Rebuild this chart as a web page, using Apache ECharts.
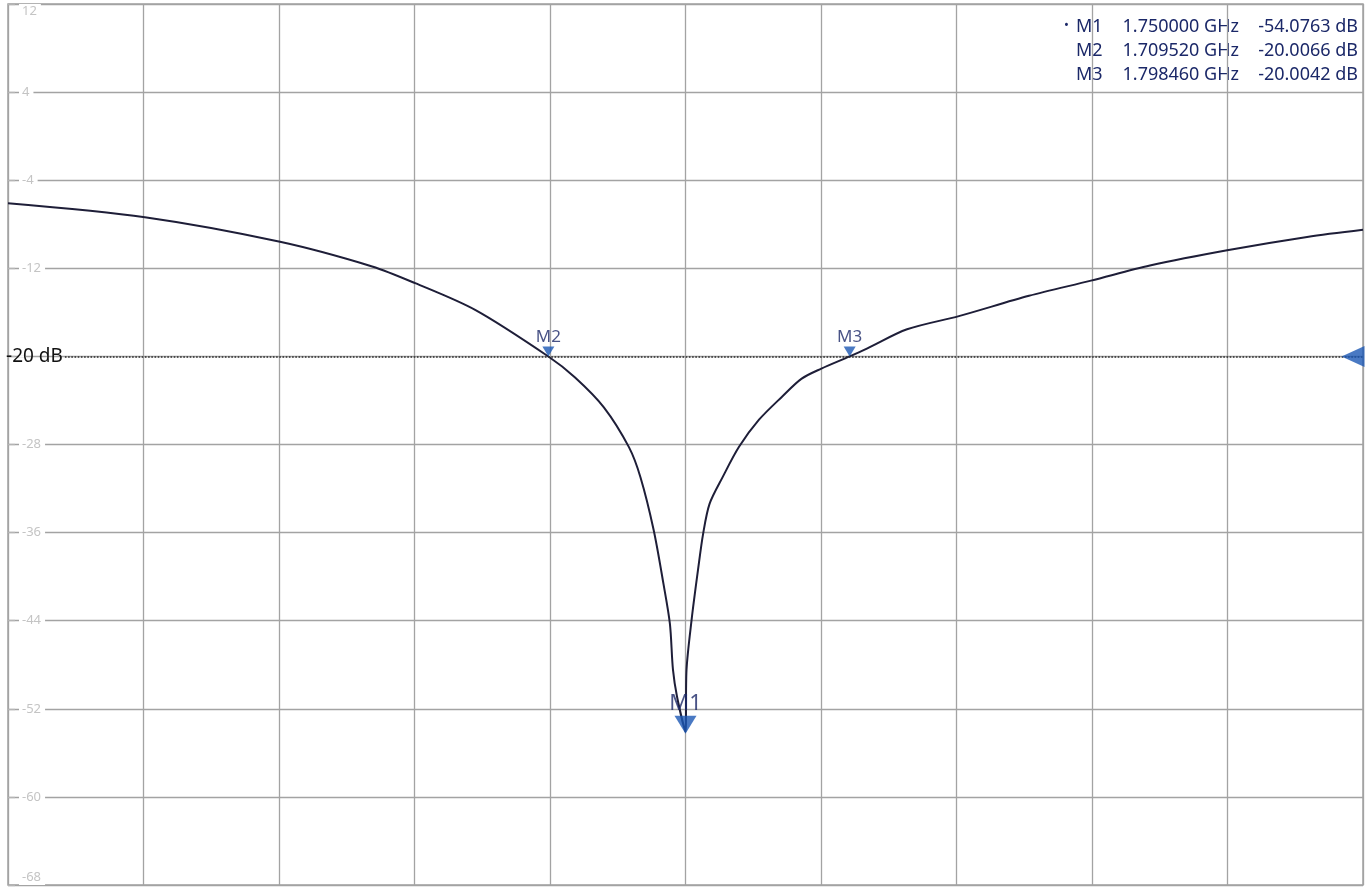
<!DOCTYPE html>
<html>
<head>
<meta charset="utf-8">
<script src="https://cdn.jsdelivr.net/npm/echarts@6/dist/echarts.min.js"></script>
<style>
  html, body { margin: 0; padding: 0; background: #fff; }
  #chart { width: 1369px; height: 890px; }
</style>
</head>
<body>
<div id="chart"></div>
<script>
// trace (GHz, dB)
const freqGHz = [
  1.5500, 1.5904, 1.6303, 1.6575, 1.6702, 1.6879, 1.70952, 1.7174, 1.7259,
  1.7333, 1.7367, 1.7406, 1.7435, 1.7454, 1.7463, 1.7475, 1.7500, 1.7503,
  1.7518, 1.7537, 1.7552, 1.7571, 1.7610, 1.7658, 1.7717, 1.7785, 1.7843,
  1.7901, 1.79846, 1.8037, 1.8154, 1.8307, 1.8514, 1.8697, 1.8871, 1.9099,
  1.9335, 1.9500,
];
const traceDb = [
  -6.09, -7.36, -9.59, -11.83, -13.35, -15.78, -20.01, -21.91, -24.62,
  -28.24, -30.97, -35.76, -40.66, -44.29, -48.45, -50.9, -54.08, -48.45,
  -43.92, -39.37, -36.11, -33.39, -30.94, -28.21, -25.75, -23.66, -22.02,
  -21.11, -20.0, -19.27, -17.54, -16.34, -14.5, -13.12, -11.75, -10.36,
  -9.15, -8.5,
];

const markerNames = ["M1", "M2", "M3"];
const markerFreqs = [1.75, 1.70952, 1.79846];
const markerDb = [-54.0763, -20.0066, -20.0042];

const limitDb = -20;
const limitLabel = "-20 dB";

const xMin = 1.55, xMax = 1.95, xStep = 0.04;
const yMin = -68, yMax = 12, yStep = 8;

const chart = echarts.init(document.querySelector("#chart"));

const navy = "#1b2868";
const markerBlue = "#1b57b4";
const gridGrey = "#a3a3a3";
const font = '"Noto Sans", "DejaVu Sans", sans-serif';

const trace = freqGHz.map((f, i) => [f, traceDb[i]]);

const markerData = markerNames.map((name, i) => {
  const big = i === 0;
  return {
    name,
    value: [markerFreqs[i], markerDb[i]],
    symbolSize: big ? [22, 18] : [12, 10],
    symbolOffset: [0, big ? -7 : -5],
    label: {
      fontSize: big ? 22 : 17,
      distance: 1,
    },
  };
});

// marker readout, top right
const readout = [];
markerNames.forEach((name, i) => {
  const y = 27 + i * 24;
  const style = { font: `18px ${font}`, fill: navy, verticalAlign: "middle", textVerticalAlign: "middle" };
  if (i === 0) {
    readout.push({ type: "text", x: 1064, y: y - 2, style: { ...style, text: "•", font: `13px ${font}` } });
  }
  readout.push({ type: "text", x: 1076, y, style: { ...style, text: name, align: "left", textAlign: "left" } });
  readout.push({
    type: "text", x: 1239, y,
    style: { ...style, text: `${markerFreqs[i].toFixed(6)} GHz`, align: "right", textAlign: "right" },
  });
  readout.push({
    type: "text", x: 1358, y,
    style: { ...style, text: `${markerDb[i].toFixed(4)} dB`, align: "right", textAlign: "right" },
  });
});

chart.setOption({
  animation: false,
  backgroundColor: "#fff",
  grid: {
    left: 8, right: 6, top: 4, bottom: 5,
    show: true,
    borderColor: gridGrey,
    borderWidth: 1.5,
  },
  xAxis: {
    type: "value",
    min: xMin,
    max: xMax,
    interval: xStep,
    axisLine: { show: false },
    axisTick: { show: false },
    axisLabel: { show: false },
    splitLine: { show: true, lineStyle: { color: gridGrey, width: 1.3 } },
  },
  yAxis: {
    type: "value",
    min: yMin,
    max: yMax,
    interval: yStep,
    axisLine: { show: false },
    axisTick: { show: true, inside: true, length: 7, lineStyle: { color: "#b5b5b5", width: 1.3 } },
    axisLabel: {
      inside: true,
      margin: 11,
      color: "#c4c4c4",
      fontSize: 13,
      fontFamily: font,
      backgroundColor: "#fff",
      padding: [1, 4, 1, 3],
      verticalAlignMaxLabel: "top",
      verticalAlignMinLabel: "bottom",
      // the limit line label sits where the -20 tick label would be
      formatter: (value) => (value === limitDb ? "" : String(value)),
    },
    splitLine: { show: true, lineStyle: { color: gridGrey, width: 1.3 } },
  },
  graphic: readout,
  series: [
    {
      name: "trace",
      type: "line",
      data: trace,
      showSymbol: false,
      smooth: 0.3,
      lineStyle: { color: "#1e1e38", width: 2 },
      z: 3,
      markLine: {
        silent: true,
        symbol: ["none", "none"],
        lineStyle: { color: "#2a2a2a", type: "dotted", width: 1.6 },
        label: {
          show: true,
          position: "start",
          distance: 2,
          formatter: limitLabel,
          color: "#111",
          fontSize: 19,
          fontFamily: font,
        },
        data: [[{ coord: [1.5668, limitDb] }, { coord: [xMax, limitDb] }]],
      },
    },
    {
      name: "markers",
      type: "scatter",
      data: markerData,
      symbol: "triangle",
      symbolRotate: 180,
      itemStyle: { color: markerBlue },
      label: {
        show: true,
        position: "top",
        formatter: (p) => p.name,
        color: navy,
        fontFamily: font,
      },
      z: 5,
    },
    {
      name: "limit arrow",
      type: "scatter",
      data: [[xMax, limitDb]],
      symbol: "triangle",
      symbolRotate: 90,
      symbolSize: [21, 23],
      symbolOffset: [-10, 0],
      itemStyle: { color: markerBlue },
      z: 5,
    },
  ],
});
</script>
</body>
</html>
